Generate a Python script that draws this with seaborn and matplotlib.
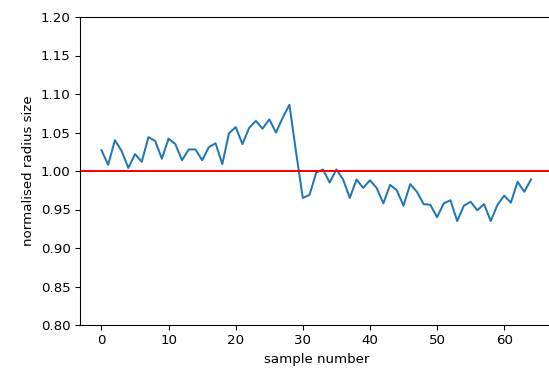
import seaborn as sns
import matplotlib.pyplot as plt
import pandas as pd

# ---- Data ----
radius = [
    1.027, 1.008, 1.040, 1.026, 1.004, 1.022, 1.012, 1.044, 1.039, 1.016,
    1.042, 1.035, 1.014, 1.028, 1.028, 1.014, 1.031, 1.036, 1.009, 1.049,
    1.057, 1.035, 1.056, 1.065, 1.055, 1.067, 1.050, 1.069, 1.086, 1.024,
    0.965, 0.969, 0.998, 1.002, 0.985, 1.002, 0.989, 0.965, 0.989, 0.978,
    0.988, 0.978, 0.958, 0.982, 0.975, 0.955, 0.983, 0.973, 0.957, 0.956,
    0.940, 0.958, 0.962, 0.935, 0.955, 0.960, 0.949, 0.957, 0.935, 0.956,
    0.968, 0.959, 0.986, 0.973, 0.989,
]
samples = list(range(len(radius)))
reference_level = 1.0

df = pd.DataFrame({"sample number": samples, "normalised radius size": radius})

# ---- Plot ----
# 96 dpi gives the larger text of the reference; right spine falls off the canvas
fig = plt.figure(figsize=(549 / 96, 369 / 96), dpi=96)
ax = fig.add_axes([80 / 549, 44 / 369, 472.5 / 549, 308 / 369])

sns.lineplot(data=df, x="sample number", y="normalised radius size",
             color="tab:blue", linewidth=1.5, ax=ax)
ax.axhline(reference_level, color="red", linewidth=1.5)

ax.set_ylim(0.80, 1.20)
ax.set_yticks([0.80, 0.85, 0.90, 0.95, 1.00, 1.05, 1.10, 1.15, 1.20])
ax.set_xticks([0, 10, 20, 30, 40, 50, 60])
ax.set_xlabel("sample number")
ax.set_ylabel("normalised radius size")

fig.savefig("out.png", dpi=96)
plt.close(fig)
